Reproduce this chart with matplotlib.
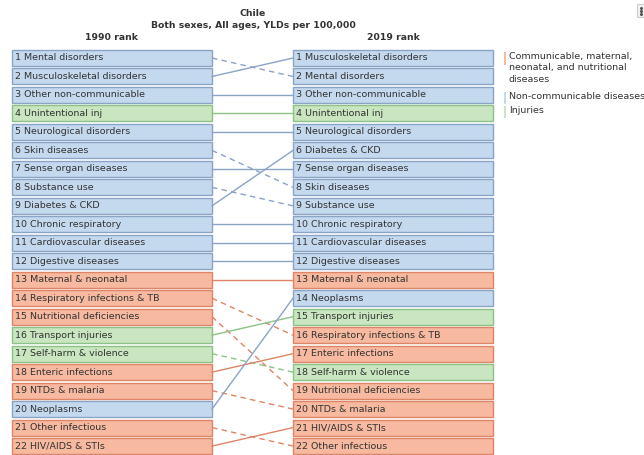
import matplotlib.pyplot as plt
from matplotlib.patches import Rectangle

# data
causes_1990 = ['Mental disorders', 'Musculoskeletal disorders', 'Other non-communicable',
               'Unintentional inj', 'Neurological disorders', 'Skin diseases',
               'Sense organ diseases', 'Substance use', 'Diabetes & CKD',
               'Chronic respiratory', 'Cardiovascular diseases', 'Digestive diseases',
               'Maternal & neonatal', 'Respiratory infections & TB', 'Nutritional deficiencies',
               'Transport injuries', 'Self-harm & violence', 'Enteric infections',
               'NTDs & malaria', 'Neoplasms', 'Other infectious', 'HIV/AIDS & STIs']
causes_2019 = ['Musculoskeletal disorders', 'Mental disorders', 'Other non-communicable',
               'Unintentional inj', 'Neurological disorders', 'Diabetes & CKD',
               'Sense organ diseases', 'Skin diseases', 'Substance use',
               'Chronic respiratory', 'Cardiovascular diseases', 'Digestive diseases',
               'Maternal & neonatal', 'Neoplasms', 'Transport injuries',
               'Respiratory infections & TB', 'Enteric infections', 'Self-harm & violence',
               'Nutritional deficiencies', 'NTDs & malaria', 'HIV/AIDS & STIs', 'Other infectious']
group = {
    'Mental disorders': 'ncd', 'Musculoskeletal disorders': 'ncd', 'Other non-communicable': 'ncd',
    'Unintentional inj': 'inj', 'Neurological disorders': 'ncd', 'Skin diseases': 'ncd',
    'Sense organ diseases': 'ncd', 'Substance use': 'ncd', 'Diabetes & CKD': 'ncd',
    'Chronic respiratory': 'ncd', 'Cardiovascular diseases': 'ncd', 'Digestive diseases': 'ncd',
    'Maternal & neonatal': 'cmnn', 'Respiratory infections & TB': 'cmnn',
    'Nutritional deficiencies': 'cmnn', 'Transport injuries': 'inj', 'Self-harm & violence': 'inj',
    'Enteric infections': 'cmnn', 'NTDs & malaria': 'cmnn', 'Neoplasms': 'ncd',
    'Other infectious': 'cmnn', 'HIV/AIDS & STIs': 'cmnn',
}
legend_labels = ['Communicable, maternal,\nneonatal, and nutritional\ndiseases',
                 'Non-communicable diseases', 'Injuries']
legend_groups = ['cmnn', 'ncd', 'inj']

fills = {'ncd': '#c5d9ee', 'cmnn': '#f7b9a0', 'inj': '#c9e6c1'}
edges = {'ncd': '#8aa4c6', 'cmnn': '#dd8566', 'inj': '#8cc286'}

W, H = 644, 455
fig = plt.figure(figsize=(W / 100, H / 100), dpi=100)
ax = fig.add_axes([0, 0, 1, 1])
ax.set_xlim(0, W)
ax.set_ylim(H, 0)
ax.axis('off')

font = 'DejaVu Sans'
fs = 6.8
top = 58
pitch = 18.48
box_h = 16
lx0, lx1 = 12, 212
rx0, rx1 = 293, 493


def ypos(rank):
    return top + (rank - 1) * pitch


for i, name in enumerate(causes_1990):
    g = group[name]
    y = ypos(i + 1)
    ax.add_patch(Rectangle((lx0, y - box_h / 2), lx1 - lx0, box_h, facecolor=fills[g],
                           edgecolor=edges[g], lw=1))
    ax.text(lx0 + 3, y, f'{i + 1} {name}', fontsize=fs, va='center', ha='left',
            color='#333333', family=font)

for i, name in enumerate(causes_2019):
    g = group[name]
    y = ypos(i + 1)
    ax.add_patch(Rectangle((rx0, y - box_h / 2), rx1 - rx0, box_h, facecolor=fills[g],
                           edgecolor=edges[g], lw=1))
    ax.text(rx0 + 3, y, f'{i + 1} {name}', fontsize=fs, va='center', ha='left',
            color='#333333', family=font)

for i, name in enumerate(causes_1990):
    j = causes_2019.index(name)
    ls = '-' if j <= i else (0, (4, 3))
    ax.plot([lx1, rx0], [ypos(i + 1), ypos(j + 1)], color=edges[group[name]],
            lw=1, ls=ls)

tfs = 6.7
ax.text(253, 14, 'Chile', fontsize=tfs, fontweight='bold', ha='center', va='center',
        color='#333333', family=font)
ax.text(253, 25, 'Both sexes, All ages, YLDs per 100,000', fontsize=tfs, fontweight='bold',
        ha='center', va='center', color='#333333', family=font)
ax.text(112, 37, '1990 rank', fontsize=tfs, fontweight='bold', ha='center', va='center',
        color='#333333', family=font)
ax.text(393, 37, '2019 rank', fontsize=tfs, fontweight='bold', ha='center', va='center',
        color='#333333', family=font)

# legend
ly = [58, 98, 112]
lh = [13, 12, 12]
for k, g in enumerate(legend_groups):
    ax.add_patch(Rectangle((504, ly[k] - 6), 2.5, lh[k], facecolor=fills[g], edgecolor='none'))
    ax.text(509, ly[k] - 6, legend_labels[k], fontsize=6.8, ha='left', va='top',
            color='#333333', family=font, linespacing=1.35)

# small menu button top right
ax.add_patch(Rectangle((637, 4), 10, 13, facecolor='#f2f2f2', edgecolor='#cccccc', lw=0.8))
ax.plot([641, 641, 641], [7.5, 10.5, 13.5], ls='none', marker='o', ms=1.2, color='#555555')

fig.savefig('out.png', dpi=100)
